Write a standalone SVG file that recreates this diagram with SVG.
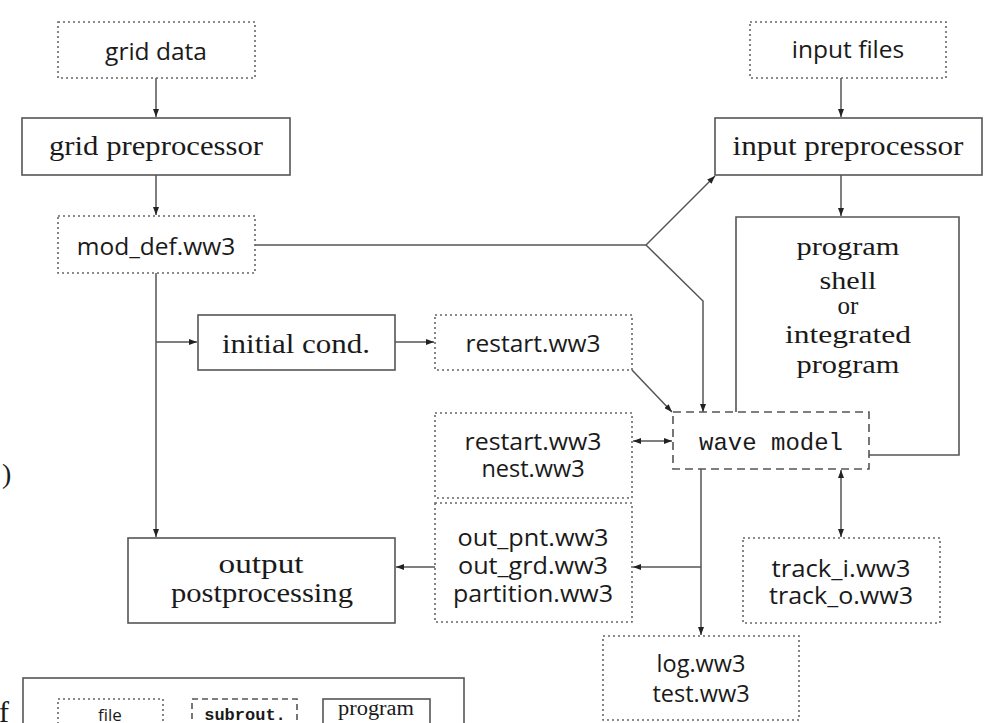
<svg xmlns="http://www.w3.org/2000/svg" width="1003" height="723" viewBox="0 0 1003 723">
<style>
.bg{fill:#ffffff}
.file{fill:none;stroke:#666;stroke-width:1.6;stroke-dasharray:2 3}
.sub{fill:none;stroke:#555;stroke-width:1.6;stroke-dasharray:8 5}
.prog{fill:none;stroke:#555;stroke-width:1.6}
.conn{fill:none;stroke:#555;stroke-width:1.5}
.ss{font-family:"Open Sans","DejaVu Sans",sans-serif;font-size:24.5px;fill:#1a1a1a;text-anchor:middle}
.ml{font-size:23.5px}
.sr{font-family:"Liberation Serif","DejaVu Serif",serif;font-size:28px;fill:#1a1a1a;text-anchor:middle}
.sh{font-size:25px}
.mono{font-family:"Liberation Mono","DejaVu Sans Mono",monospace;font-size:24px;fill:#1a1a1a;text-anchor:middle}
</style>
<defs>
<marker id="ah" viewBox="0 0 8 6" refX="8" refY="3" markerWidth="8" markerHeight="6" markerUnits="userSpaceOnUse" orient="auto-start-reverse">
<path d="M0,0 L8,3 L0,6 z" fill="#222"/>
</marker>
</defs>
<rect class="bg" x="0" y="0" width="1003" height="723"/>

<g id="connectors">
<path class="conn" d="M156,78 V117" marker-end="url(#ah)"/>
<path class="conn" d="M156,175 V215" marker-end="url(#ah)"/>
<path class="conn" d="M841,78 V117" marker-end="url(#ah)"/>
<path class="conn" d="M841,175 V216" marker-end="url(#ah)"/>
<path class="conn" d="M255,245 H646"/>
<path class="conn" d="M646,245 L715,176" marker-end="url(#ah)"/>
<path class="conn" d="M646,245 L703,301 V412" marker-end="url(#ah)"/>
<path class="conn" d="M156,273 V537" marker-end="url(#ah)"/>
<path class="conn" d="M156,342 H197" marker-end="url(#ah)"/>
<path class="conn" d="M395,342 H434" marker-end="url(#ah)"/>
<path class="conn" d="M632,370 L672,412" marker-end="url(#ah)"/>
<path class="conn" d="M633,441 H672" marker-start="url(#ah)" marker-end="url(#ah)"/>
<path class="conn" d="M701,469 V635" marker-end="url(#ah)"/>
<path class="conn" d="M701,567 H633" marker-end="url(#ah)"/>
<path class="conn" d="M435,567 H396" marker-end="url(#ah)"/>
<path class="conn" d="M841,470 V537" marker-start="url(#ah)" marker-end="url(#ah)"/>
</g>

<g id="grid-data">
<rect class="file" x="58" y="22" width="197" height="56"/>
<text class="ss" x="156" y="60">grid data</text>
</g>

<g id="grid-preprocessor">
<rect class="prog" x="22" y="118" width="268" height="57"/>
<text class="sr" x="156" y="155" textLength="214" lengthAdjust="spacingAndGlyphs">grid preprocessor</text>
</g>

<g id="mod-def">
<rect class="file" x="58" y="216" width="197" height="57"/>
<text class="ss" x="156" y="255">mod_def.ww3</text>
</g>

<g id="input-files">
<rect class="file" x="750" y="22" width="196" height="56"/>
<text class="ss" x="848" y="58">input files</text>
</g>

<g id="input-preprocessor">
<rect class="prog" x="715" y="118" width="267" height="57"/>
<text class="sr" x="848" y="155" textLength="231" lengthAdjust="spacingAndGlyphs">input preprocessor</text>
</g>

<g id="program-shell">
<path class="prog" d="M869,455 H959 V217 H736 V412"/>
<text class="sr sh" x="848" y="255" textLength="103" lengthAdjust="spacingAndGlyphs">program</text>
<text class="sr sh" x="848" y="289" textLength="57" lengthAdjust="spacingAndGlyphs">shell</text>
<text class="sr sh" x="848" y="314">or</text>
<text class="sr sh" x="848" y="343" textLength="126" lengthAdjust="spacingAndGlyphs">integrated</text>
<text class="sr sh" x="848" y="373" textLength="103" lengthAdjust="spacingAndGlyphs">program</text>
</g>

<g id="initial-cond">
<rect class="prog" x="198" y="315" width="197" height="55"/>
<text class="sr" x="296" y="353" textLength="148" lengthAdjust="spacingAndGlyphs">initial cond.</text>
</g>

<g id="restart-in">
<rect class="file" x="435" y="315" width="197" height="55"/>
<text class="ss" x="533" y="352">restart.ww3</text>
</g>

<g id="wave-model">
<rect class="sub" x="673" y="412" width="196" height="57"/>
<text class="mono" x="771" y="450">wave model</text>
</g>

<g id="restart-nest">
<rect class="file" x="435" y="413" width="197" height="85"/>
<text class="ss ml" x="533" y="450" textLength="137" lengthAdjust="spacingAndGlyphs">restart.ww3</text>
<text class="ss ml" x="533" y="477">nest.ww3</text>
</g>

<g id="out-files">
<rect class="file" x="435" y="503" width="197" height="119"/>
<text class="ss ml" x="533" y="546" textLength="151" lengthAdjust="spacingAndGlyphs">out_pnt.ww3</text>
<text class="ss ml" x="533" y="574" textLength="150" lengthAdjust="spacingAndGlyphs">out_grd.ww3</text>
<text class="ss ml" x="533" y="602" textLength="160" lengthAdjust="spacingAndGlyphs">partition.ww3</text>
</g>

<g id="output-postprocessing">
<rect class="prog" x="128" y="538" width="267" height="85"/>
<text class="sr" x="261" y="573" textLength="85" lengthAdjust="spacingAndGlyphs">output</text>
<text class="sr" x="262" y="602" textLength="182" lengthAdjust="spacingAndGlyphs">postprocessing</text>
</g>

<g id="track">
<rect class="file" x="743" y="538" width="197" height="85"/>
<text class="ss ml" x="841" y="577" textLength="139" lengthAdjust="spacingAndGlyphs">track_i.ww3</text>
<text class="ss ml" x="841" y="604" textLength="144" lengthAdjust="spacingAndGlyphs">track_o.ww3</text>
</g>

<g id="log">
<rect class="file" x="603" y="636" width="196" height="84"/>
<text class="ss ml" x="701" y="672">log.ww3</text>
<text class="ss ml" x="701" y="702">test.ww3</text>
</g>

<g id="legend">
<rect class="prog" x="23" y="678" width="441" height="70"/>
<rect class="file" x="58" y="699" width="105" height="40"/>
<text class="ss" x="110" y="721" style="font-size:17px">file</text>
<rect class="sub" x="192" y="699" width="105" height="40" style="stroke-dasharray:6 4"/>
<text class="mono" x="245" y="720" style="font-size:17px;font-weight:bold">subrout.</text>
<rect class="prog" x="323" y="699" width="107" height="40"/>
<text class="sr" x="376" y="715" style="font-size:20px" textLength="76" lengthAdjust="spacingAndGlyphs">program</text>
</g>

<g id="edge-fragments">
<text x="2" y="483" style="font-family:'Liberation Serif',serif;font-size:28px;fill:#1a1a1a">)</text>
<text x="-1" y="722" style="font-family:'Liberation Serif',serif;font-size:30px;fill:#1a1a1a">f</text>
</g>
</svg>
